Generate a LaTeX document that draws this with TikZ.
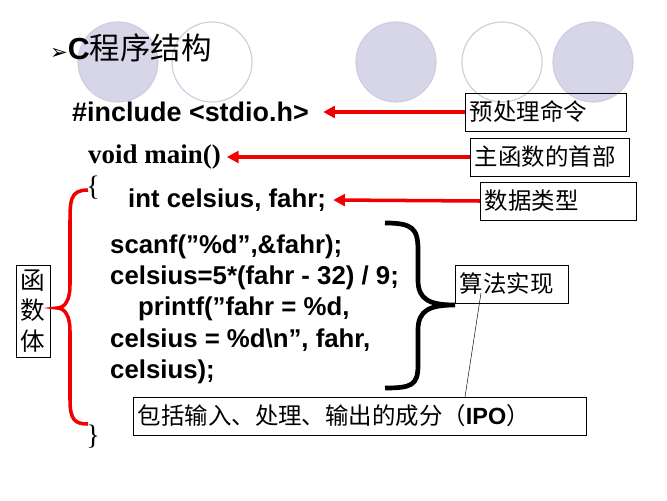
\documentclass[tikz,border=0pt]{standalone}
\usepackage{fontspec}
\setmainfont{Liberation Serif}
\setsansfont{Liberation Sans}
\newfontfamily\cjk{Noto Sans CJK SC}
\newfontfamily\dejavu{DejaVu Sans}
\usetikzlibrary{arrows.meta, positioning}
\definecolor{circlelav}{RGB}{214,214,232}
\definecolor{circleedge}{RGB}{206,206,224}
\definecolor{arrowred}{RGB}{240,0,0}
\newcommand{\dq}{\symbol{34}}

\begin{document}
\begin{tikzpicture}[x=0.03cm, y=-0.03cm,
    code/.style={font=\sffamily\bfseries\fontsize{22}{26}\selectfont, anchor=west, inner sep=0pt},
    label/.style={draw, thin, font=\cjk\fontsize{20}{22}\selectfont, inner sep=4pt, anchor=west,
                  text width=#1, minimum height=1.14cm, align=left}
]
    \useasboundingbox (0,0) rectangle (667,500);
    % background circles
    \foreach \cx/\fl in {118/circlelav, 212/white, 396/circlelav, 502/white, 593/circlelav}
        \draw[circleedge, line width=1pt, fill=\fl] (\cx,62) circle (40);

    % title
    \node[anchor=west, inner sep=0pt] (title) at (50,48)
        {{\dejavu\fontsize{18}{20}\selectfont ➢}{\sffamily\bfseries\fontsize{26}{30}\selectfont C}{\cjk\fontsize{26}{30}\selectfont 程序结构}};

    % code
    \node[code, font=\sffamily\bfseries\fontsize{23}{26}\selectfont] (incl) at (72,112) {\#include <stdio.h>};
    \node[anchor=west, inner sep=0pt, font=\rmfamily\bfseries\fontsize{23}{26}\selectfont] (main) at (88,157) {void main()};
    \node[inner sep=0pt, font=\rmfamily\fontsize{24}{26}\selectfont] (lbr) at (93,188) {\{};
    \node[code] (decl) at (128,200) {int celsius, fahr;};
    \node[code] (l1) at (110,247) {scanf(\dq\%d\dq,\&fahr);};
    \node[code] (l2) at (110,278) {celsius=5*(fahr - 32) / 9;};
    \node[code] (l3) at (138,309) {printf(\dq fahr = \%d,};
    \node[code] (l4) at (110,340) {celsius = \%d\textbackslash n\dq, fahr,};
    \node[code] (l5) at (110,372) {celsius);};
    \node[inner sep=0pt, font=\rmfamily\fontsize{24}{26}\selectfont] (rbr) at (93,437) {\}};

    % labels
    \node[label=4.55cm] (pre) at (465,112) {预处理命令};
    \node[label=4.5cm] (head) at (470,157) {主函数的首部};
    \node[label=4.4cm] (dtype) at (480,201) {数据类型};
    \node[label=3.1cm] (algo) at (455,284) {算法实现};
    \node[label=13.3cm] (ipo) at (133,416) {包括输入、处理、输出的成分（{\sffamily\bfseries IPO}）};
    \node[draw, thin, font=\cjk\fontsize{21}{26}\selectfont, align=center, inner sep=4pt] (body) at (33,311) {函\\数\\体};

    % arrows
    \draw[arrowred, line width=3pt, -{Triangle[length=10pt, width=10pt]}] (pre.west) -- ([xshift=12pt]incl.east);
    \draw[arrowred, line width=3pt, -{Triangle[length=10pt, width=10pt]}] (head.west) -- ([xshift=5pt]main.east);
    \draw[arrowred, line width=3pt, -{Triangle[length=10pt, width=10pt]}] (dtype.west) -- ([xshift=6pt]decl.east);
    \draw[thin] (465,397) -- (481,293);

    % braces
    \draw[arrowred, line width=3pt] (88,190) .. controls (70,190) and (70,200) .. (70,225)
        -- (70,285) .. controls (70,300) and (65,308) .. (57,308)
        .. controls (65,308) and (70,316) .. (70,331) -- (70,400)
        .. controls (70,420) and (75,424) .. (88,424);
    \draw[line width=4pt] (385,223) .. controls (412,223) and (418,228) .. (418,250)
        -- (418,280) .. controls (418,300) and (430,305) .. (455,305)
        .. controls (430,305) and (418,310) .. (418,330) -- (418,365)
        .. controls (418,385) and (412,388) .. (385,388);
\end{tikzpicture}
\end{document}
